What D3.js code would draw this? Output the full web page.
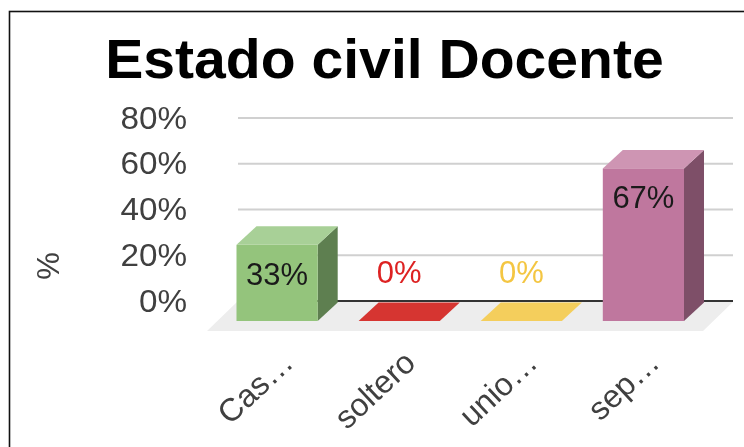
<!DOCTYPE html>
<html><head><meta charset="utf-8">
<script src="https://cdn.jsdelivr.net/npm/d3@7/dist/d3.min.js"></script>
<style>html,body{margin:0;padding:0;background:#fff;overflow:hidden}svg{display:block;filter:blur(0.35px)}text{font-family:"Liberation Sans",Arial,sans-serif}</style>
</head><body><svg id="c" width="744" height="447"></svg>
<script>
const categories = ["Cas…", "soltero", "unio…", "sep…"];
const values = [33.3, 0, 0, 66.7];
const tickValues = [0, 20, 40, 60, 80];
const frontColors = ["#94C47C", "#D63531", "#F4CE5C", "#BF779E"];
const topColors = ["#A8D097", "#D63531", "#F4CE5C", "#CE95B3"];
const sideColors = ["#5E7F50", "#8A2A28", "#A08A40", "#7E4F68"];
const labelColors = ["#1a1a1a", "#DD2222", "#F4C642", "#1a1a1a"];
const title = "Estado civil Docente";
const yTitle = "%";

const svg = d3.select("#c");
const dx = 20, dy = 18.5;
const x = d3.scaleBand().domain(categories).range([236.5, 684]).paddingInner(0.335).paddingOuter(0);
const y = d3.scaleLinear().domain([0, 80]).range([301, 118]);
const front = v => y(v) + 20;

svg.append("rect").attr("x", 9.5).attr("y", 11.5).attr("width", 760).attr("height", 460)
  .attr("fill", "#fff").attr("stroke", "#111").attr("stroke-width", 1.6);

svg.append("text").attr("transform", "translate(384.5,77.5) scale(1.02,1)").attr("text-anchor", "middle")
  .attr("font-size", 56).attr("font-weight", 700).attr("fill", "#000").text(title);

svg.append("polygon").attr("fill", "#EDEDED")
  .attr("points", [[207,331],[703,331],[733,302],[237,302]].join(" "));

const axis = d3.axisLeft(y).tickValues(tickValues).tickSize(0).tickFormat(d => d + "%");
const ag = svg.append("g").attr("transform", "translate(187,0) scale(1.04,1)").call(axis);
ag.select(".domain").remove();
ag.selectAll("text").attr("font-size", 32).attr("fill", "#404040").attr("x", 0).attr("dy", "0.32em");

svg.append("g").selectAll("line").data(tickValues).join("line")
  .attr("x1", 238).attr("x2", 733).attr("y1", d => y(d)).attr("y2", d => y(d))
  .attr("stroke", d => d === 0 ? "#333" : "#D0D0D0").attr("stroke-width", 2);

const g = svg.append("g").selectAll("g").data(categories).join("g");
const bw = x.bandwidth();
g.append("polygon").attr("fill", (d,i) => sideColors[i]).attr("points", (d,i) => {
  const l = x(d) + bw, t = front(values[i]), b = front(0);
  return [[l,t],[l+dx,t-dy],[l+dx,b-dy],[l,b]].join(" ");
});
g.append("polygon").attr("fill", (d,i) => topColors[i]).attr("points", (d,i) => {
  const l = x(d), t = front(values[i]);
  return [[l,t],[l+bw,t],[l+bw+dx,t-dy],[l+dx,t-dy]].join(" ");
});
g.append("rect").attr("fill", (d,i) => frontColors[i])
  .attr("x", d => x(d)).attr("width", bw)
  .attr("y", (d,i) => front(values[i])).attr("height", (d,i) => front(0) - front(values[i]));

const labelY = [285, 283, 283, 208];
g.append("text").attr("x", d => x(d) + bw/2).attr("y", (d,i) => labelY[i])
  .attr("text-anchor", "middle").attr("font-size", 31).attr("fill", (d,i) => labelColors[i])
  .text((d,i) => Math.round(values[i]) + "%");

svg.append("g").selectAll("text").data(categories).join("text")
  .attr("font-size", 32).attr("fill", "#404040").attr("text-anchor", "end")
  .attr("transform", d => `translate(${x(d) + bw/2 + 18},365) rotate(-43)`)
  .text(d => d);

svg.append("text").attr("transform", "translate(59,266) rotate(-90)")
  .attr("text-anchor", "middle").attr("font-size", 31).attr("fill", "#404040").text(yTitle);
</script></body></html>
